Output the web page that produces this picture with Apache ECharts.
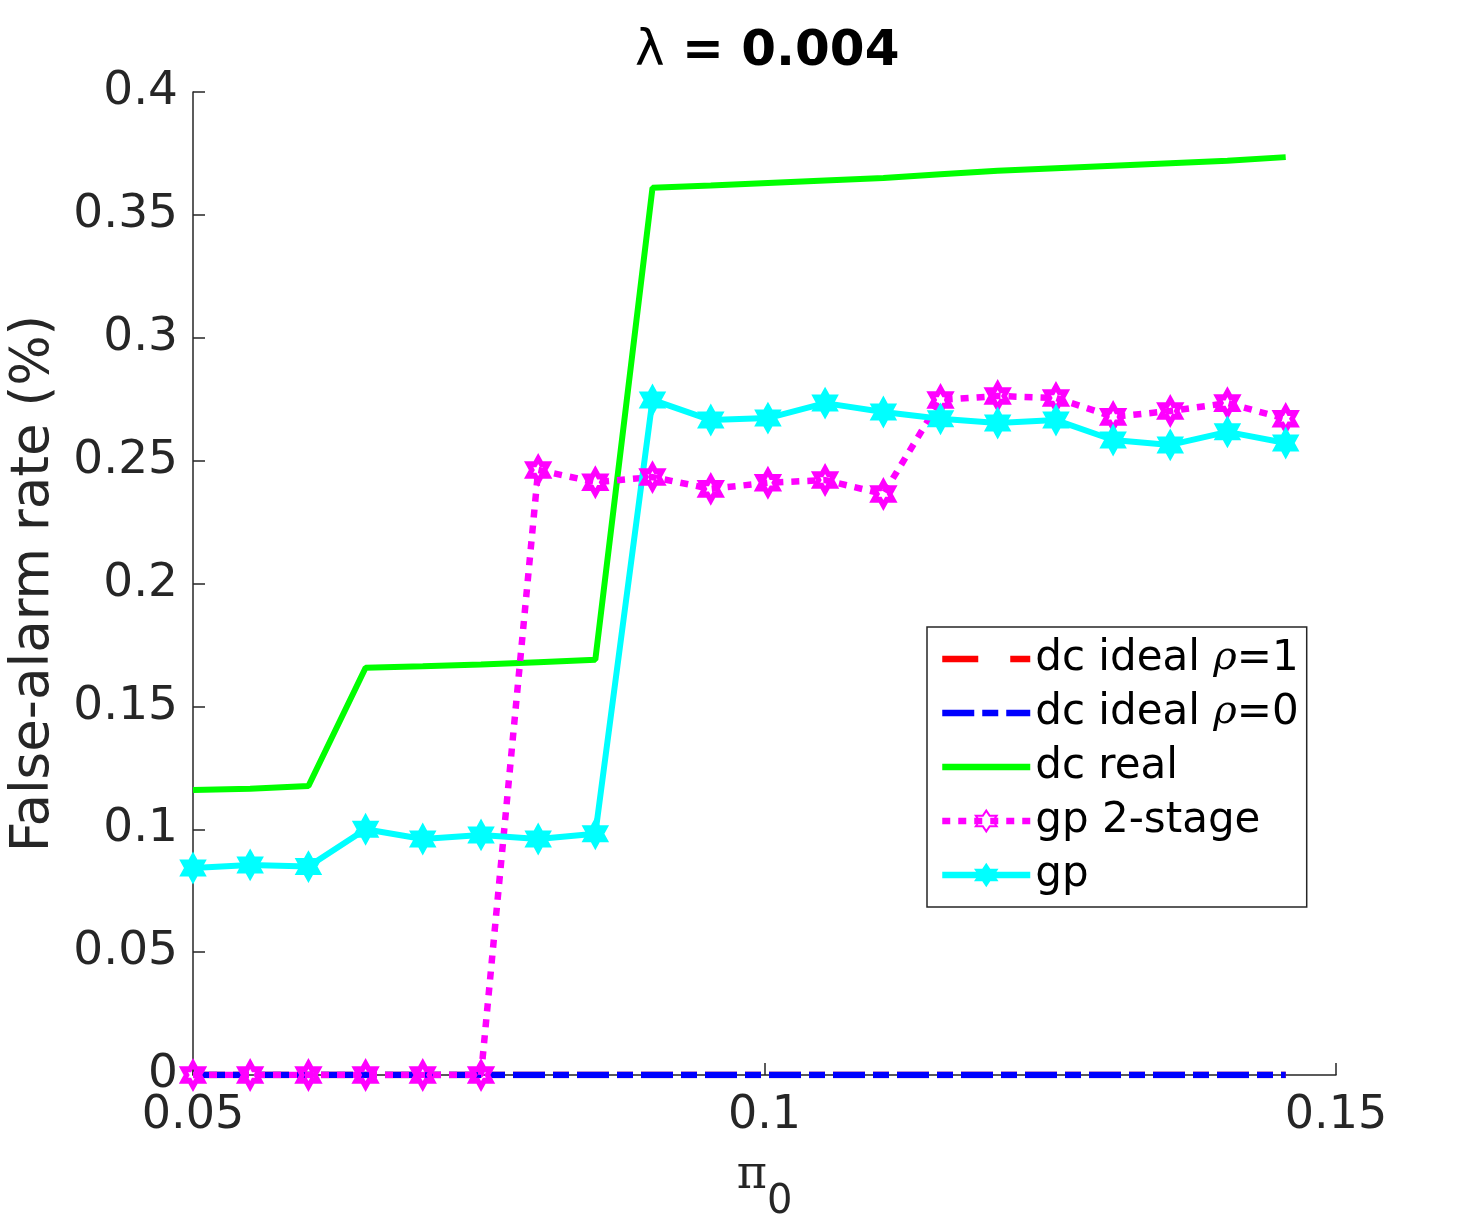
<!DOCTYPE html>
<html>
<head>
<meta charset="utf-8">
<script src="https://cdn.jsdelivr.net/npm/echarts@6/dist/echarts.min.js"></script>
<style>
    html, body {margin: 0; padding: 0; background: #fff;}
    #chart {width: 1476px; height: 1230px;}
</style>
</head>
<body>
<div id="chart"></div>
<script>
    var pi0 = [0.05, 0.0550, 0.0601, 0.0651, 0.0701, 0.0752, 0.0802, 0.0852, 0.0902, 0.0953,
        0.1003, 0.1053, 0.1104, 0.1154, 0.1204, 0.1255, 0.1305, 0.1355, 0.1405, 0.1456];
    var dcIdeal1 = [0, 0, 0, 0, 0, 0, 0, 0, 0, 0, 0, 0, 0, 0, 0, 0, 0, 0, 0, 0];
    var dcIdeal0 = [0, 0, 0, 0, 0, 0, 0, 0, 0, 0, 0, 0, 0, 0, 0, 0, 0, 0, 0, 0];
    var dcReal = [0.116, 0.1165, 0.1176, 0.1657, 0.1663, 0.167, 0.168, 0.169, 0.361, 0.362,
        0.363, 0.364, 0.365, 0.3665, 0.368, 0.369, 0.370, 0.371, 0.372, 0.3735];
    var gp2stage = [0, 0, 0, 0, 0, 0, 0.2462, 0.2412, 0.2433, 0.2385,
        0.241, 0.2421, 0.2364, 0.2747, 0.2763, 0.2755, 0.2678, 0.2702, 0.2734, 0.267];
    var gp = [0.0842, 0.0855, 0.0848, 0.1, 0.096, 0.0977, 0.096, 0.0982, 0.2747, 0.2665,
        0.2673, 0.2734, 0.2698, 0.267, 0.2653, 0.2665, 0.2584, 0.2564, 0.2617, 0.2572];
    var yTicks = [0, 0.05, 0.1, 0.15, 0.2, 0.25, 0.3, 0.35, 0.4];
    var xTicks = [0.05, 0.1, 0.15];

    var ink = '#262626',
        font = 'DejaVu Sans',
        hexagram = 'path://M0,-10L2.887,-5L8.66,-5L5.774,0L8.66,5L2.887,5L0,10L-2.887,5L-8.66,5L-5.774,0L-8.66,-5L-2.887,-5Z',
        dashDot = [32, 8, 16, 8],
        dashed = [36, 32],
        dotted = [8, 8],
        noMark = {color: 'rgba(0,0,0,0)', borderColor: 'rgba(0,0,0,0)', borderWidth: 0};

    function pairs(ys) {
        var out = [];
        for (var i = 0; i < ys.length; i++) {
            out.push([pi0[i], ys[i]]);
        }
        return out;
    }

    function fmt(v) {
        return String(parseFloat(v.toFixed(3)));
    }

    var my_chart = echarts.init(document.getElementById('chart'));

    var option = {
        animation: false,
        title: {
            text: '{l|λ}{b| = 0.004}',
            left: 630,
            top: 22,
            textStyle: {
                rich: {
                    l: {fontFamily: font, fontSize: 50, fontWeight: 'normal', color: '#000'},
                    b: {fontFamily: font, fontSize: 50, fontWeight: 'bold', color: '#000'}
                }
            }
        },
        grid: {
            left: 193,
            top: 92,
            width: 1143,
            height: 983,
            containLabel: false
        },
        legend: {
            orient: 'vertical',
            left: 927,
            top: 627,
            padding: [10, 8, 10, 12],
            backgroundColor: '#fff',
            borderColor: ink,
            borderWidth: 1.5,
            itemWidth: 88,
            itemHeight: 26,
            itemGap: 10,
            itemTextGap: 2,
            textStyle: {
                fontFamily: font,
                fontSize: 42,
                lineHeight: 44,
                color: '#000',
                rich: {
                    i: {fontFamily: 'DejaVu Serif', fontStyle: 'italic', fontSize: 40, color: '#000'}
                }
            },
            formatter: function (name) {
                return name.replace('ρ', '{i|ρ}');
            },
            data: [
                {name: 'dc ideal ρ=1', itemStyle: noMark, lineStyle: {width: 6.5, type: dashed, color: '#ff0000'}},
                {name: 'dc ideal ρ=0', itemStyle: noMark, lineStyle: {width: 6.5, type: dashDot, color: '#0000ff'}},
                {name: 'dc real', itemStyle: noMark, lineStyle: {width: 6.5, type: 'solid', color: '#00ff00'}},
                {name: 'gp 2-stage', lineStyle: {width: 6.5, type: dotted, color: '#ff00ff'}},
                {name: 'gp', lineStyle: {width: 6.5, type: 'solid', color: '#00ffff'}}
            ]
        },
        xAxis: {
            type: 'value',
            min: xTicks[0],
            max: xTicks[xTicks.length - 1],
            interval: 0.05,
            name: '{p|π}{s|0}',
            nameLocation: 'middle',
            nameGap: 78,
            nameTextStyle: {
                rich: {
                    p: {fontFamily: 'DejaVu Serif', fontSize: 46, color: ink, verticalAlign: 'top'},
                    s: {fontFamily: font, fontSize: 40, color: ink, padding: [30, 0, 0, 0]}
                }
            },
            splitLine: {show: false},
            axisLine: {lineStyle: {color: ink, width: 1.5}},
            axisTick: {inside: true, length: 12, lineStyle: {color: ink, width: 1.5}},
            axisLabel: {fontFamily: font, fontSize: 46, color: ink, margin: 18, formatter: fmt}
        },
        yAxis: {
            type: 'value',
            min: yTicks[0],
            max: yTicks[yTicks.length - 1],
            interval: 0.05,
            name: 'False-alarm rate (%)',
            nameLocation: 'middle',
            nameGap: 132,
            nameTextStyle: {fontFamily: font, fontSize: 53, color: ink},
            splitLine: {show: false},
            axisLine: {show: true, lineStyle: {color: ink, width: 1.5}},
            axisTick: {show: true, inside: true, length: 12, lineStyle: {color: ink, width: 1.5}},
            axisLabel: {fontFamily: font, fontSize: 47, color: ink, margin: 15, formatter: fmt}
        },
        series: [
            {
                name: 'dc ideal ρ=1',
                type: 'line',
                data: pairs(dcIdeal1),
                symbol: 'none',
                color: '#ff0000',
                lineStyle: {width: 6.5, type: dashDot, color: '#ff0000'}
            },
            {
                name: 'dc ideal ρ=0',
                type: 'line',
                data: pairs(dcIdeal0),
                symbol: 'none',
                color: '#0000ff',
                lineStyle: {width: 6.5, type: dashDot, color: '#0000ff'}
            },
            {
                name: 'dc real',
                type: 'line',
                data: pairs(dcReal),
                symbol: 'none',
                color: '#00ff00',
                lineStyle: {width: 6, color: '#00ff00'}
            },
            {
                name: 'gp 2-stage',
                type: 'line',
                data: pairs(gp2stage),
                symbol: hexagram,
                symbolSize: [19, 23],
                color: '#ff00ff',
                itemStyle: {color: 'rgba(255,255,255,0)', borderColor: '#ff00ff', borderWidth: 5.5},
                lineStyle: {width: 6.5, type: dotted, color: '#ff00ff'}
            },
            {
                name: 'gp',
                type: 'line',
                data: pairs(gp),
                symbol: hexagram,
                symbolSize: [19, 23],
                color: '#00ffff',
                itemStyle: {color: '#00ffff', borderColor: '#00ffff', borderWidth: 5},
                lineStyle: {width: 6, color: '#00ffff'}
            }
        ]
    };

    my_chart.setOption(option);
</script>
</body>
</html>
